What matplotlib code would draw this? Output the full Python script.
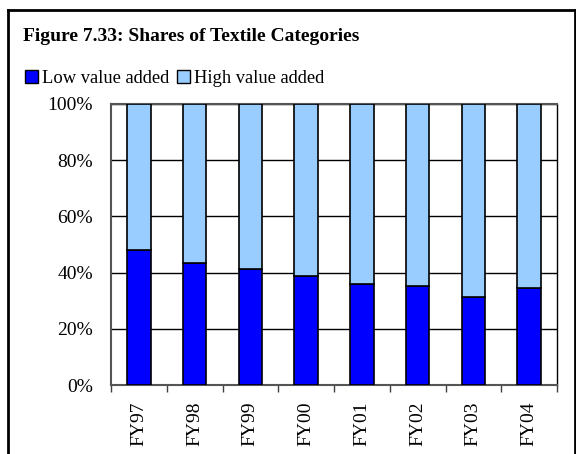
import matplotlib
matplotlib.use("Agg")
import matplotlib.pyplot as plt
from matplotlib.patches import Patch
from matplotlib.lines import Line2D
import numpy as np

# Shares of textile categories (percent of total)
years = ["FY97", "FY98", "FY99", "FY00", "FY01", "FY02", "FY03", "FY04"]
low_value = [47.9, 43.3, 41.3, 38.7, 36.0, 35.3, 31.3, 34.6]
high_value = [100 - v for v in low_value]

low_color = "#0000FF"
high_color = "#99CCFF"

plt.rcParams["font.family"] = ["Liberation Serif", "DejaVu Serif"]

W, H = 576, 454
fig = plt.figure(figsize=(W / 100, H / 100), dpi=100)
ax = fig.add_axes([111 / W, 1 - 385 / H, (557 - 111) / W, (385 - 104) / H])

x = np.arange(len(years))
ax.bar(x, low_value, width=0.42, color=low_color, edgecolor="black", linewidth=1.2, zorder=3)
ax.bar(x, high_value, width=0.42, bottom=low_value, color=high_color,
       edgecolor="black", linewidth=1.2, zorder=3)

ax.set_xlim(-0.5, len(years) - 0.5)
ax.set_ylim(0, 100)
ax.set_yticks(range(0, 101, 20))
ax.set_yticklabels(["{}%".format(v) for v in range(0, 101, 20)], fontsize=14)
ax.tick_params(axis="y", length=0, pad=13)
ax.yaxis.grid(True, color="black", linewidth=1.0, zorder=0)

# ticks between categories, labels at centres
ax.set_xticks(np.arange(-0.5, len(years), 1.0))
ax.set_xticklabels([])
ax.tick_params(axis="x", which="major", length=5, width=1.0, color="#404040", direction="out")
ax.set_xticks(x, minor=True)
ax.set_xticklabels(years, minor=True, rotation=90, fontsize=14)
ax.tick_params(axis="x", which="minor", length=0, pad=12)

for side in ["left", "bottom", "top"]:
    ax.spines[side].set_color("#555555")
    ax.spines[side].set_linewidth(1.5)
ax.spines["right"].set_color("black")
ax.spines["right"].set_linewidth(1.0)

fig.text(23 / W, 1 - 40.7 / H, "Figure 7.33: Shares of Textile Categories",
         fontsize=14, fontweight="bold", ha="left", va="baseline")

handles = [Patch(facecolor=low_color, edgecolor="black", linewidth=1.0),
           Patch(facecolor=high_color, edgecolor="black", linewidth=1.0)]
fig.legend(handles, ["Low value added", "High value added"], loc="lower left",
           bbox_to_anchor=(25 / W, 1 - 87 / H), ncol=2, frameon=False, fontsize=13.3,
           handlelength=0.7, handleheight=0.7, handletextpad=0.2,
           columnspacing=0.45, borderpad=0, borderaxespad=0)

# outer frame: left, top and right edges, open at the bottom
top = 1 - 10 / H
left, right = 8 / W, 575 / W
frame = [([left, left], [0, top]), ([left, right], [top, top]), ([right, right], [top, 0])]
for fx, fy in frame:
    fig.add_artist(Line2D(fx, fy, color="black", linewidth=2.0))

fig.savefig("out.png", dpi=100, facecolor="white")
